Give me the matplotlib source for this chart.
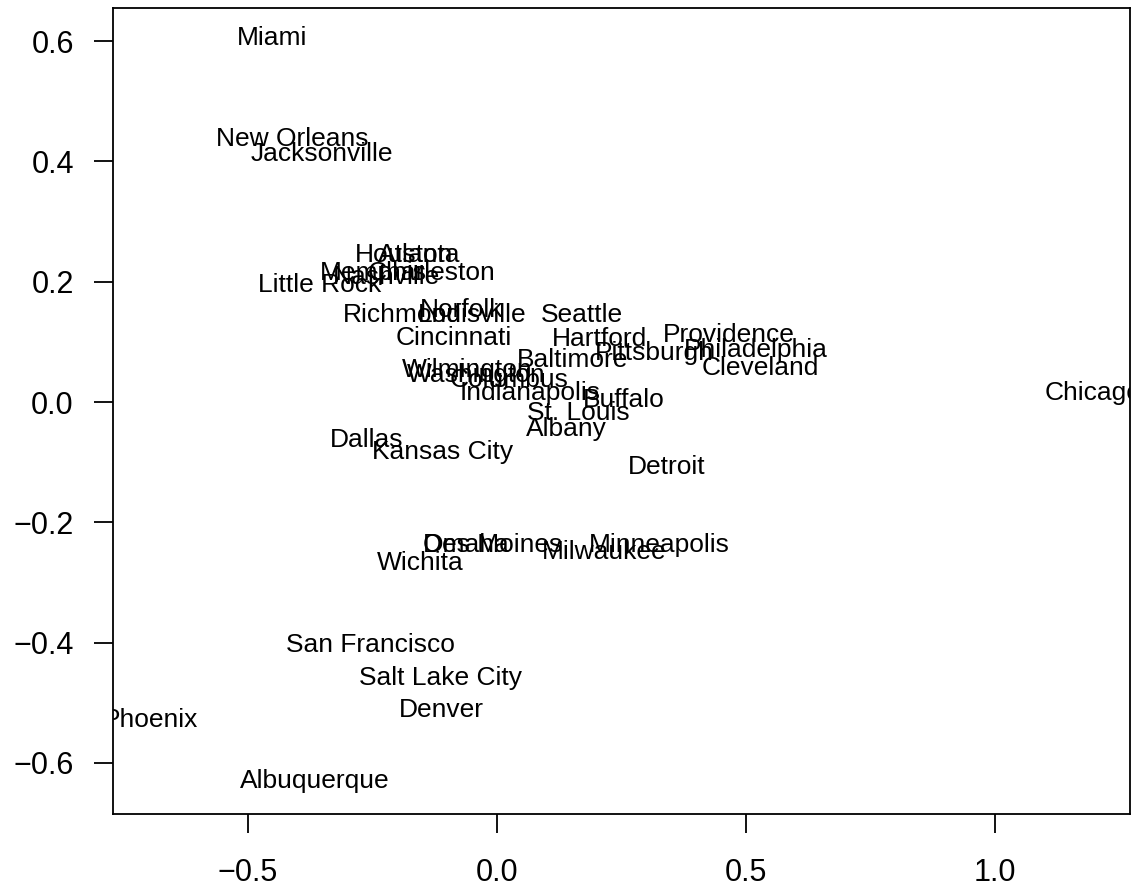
import matplotlib
matplotlib.use("Agg")
import matplotlib.pyplot as plt

plt.rcParams['font.family'] = ['Liberation Sans', 'DejaVu Sans']

# Two-dimensional scaling coordinates of the cities
cities = [
    'Miami', 'New Orleans', 'Jacksonville', 'Houston', 'Atlanta',
    'Memphis', 'Nashville', 'Charleston', 'Little Rock', 'Richmond',
    'Norfolk', 'Louisville', 'Seattle', 'Cincinnati', 'Hartford',
    'Providence', 'Pittsburgh', 'Philadelphia', 'Cleveland', 'Baltimore',
    'Wilmington', 'Washington', 'Columbus', 'Indianapolis', 'Buffalo',
    'St. Louis', 'Albany', 'Chicago', 'Dallas', 'Kansas City',
    'Detroit', 'Omaha', 'Des Moines', 'Milwaukee', 'Minneapolis',
    'Wichita', 'San Francisco', 'Salt Lake City', 'Denver', 'Phoenix',
    'Albuquerque',
]
x = [
    -0.450, -0.411, -0.350, -0.186, -0.156,
    -0.247, -0.222, -0.131, -0.355, -0.190,
    -0.071, -0.048, 0.171, -0.086, 0.206,
    0.467, 0.316, 0.520, 0.530, 0.152,
    -0.058, -0.041, 0.025, 0.067, 0.256,
    0.164, 0.140, 1.197, -0.260, -0.108,
    0.341, -0.062, -0.008, 0.217, 0.326,
    -0.154, -0.253, -0.112, -0.110, -0.695,
    -0.365,
]
y = [
    0.606, 0.438, 0.412, 0.244, 0.245,
    0.214, 0.208, 0.214, 0.195, 0.145,
    0.153, 0.145, 0.145, 0.106, 0.105,
    0.111, 0.081, 0.086, 0.057, 0.070,
    0.053, 0.045, 0.037, 0.015, 0.003,
    -0.018, -0.045, 0.015, -0.063, -0.083,
    -0.108, -0.238, -0.238, -0.249, -0.238,
    -0.268, -0.404, -0.459, -0.512, -0.529,
    -0.631,
]
xticks = [-0.5, 0.0, 0.5, 1.0]
yticks = [-0.6, -0.4, -0.2, 0.0, 0.2, 0.4, 0.6]


def fmt(v):
    return ('%.1f' % v).replace('-', '\u2212')


fig = plt.figure(figsize=(11.31, 8.93), dpi=100)
ax = fig.add_axes([0.0996, 0.0885, 0.8995, 0.9031])

for name, xi, yi in zip(cities, x, y):
    ax.text(xi, yi, name, ha='center', va='center', fontsize=19, clip_on=True)

ax.set_xlim(-0.771, 1.272)
ax.set_ylim(-0.685, 0.656)
ax.set_xticks(xticks)
ax.set_xticklabels([fmt(v) for v in xticks])
ax.set_yticks(yticks)
ax.set_yticklabels([fmt(v) for v in yticks])
ax.tick_params(axis='both', length=14, width=1.3, labelsize=22, direction='out')
ax.tick_params(axis='x', pad=18)
ax.tick_params(axis='y', pad=14)
for s in ax.spines.values():
    s.set_linewidth(1.3)

fig.savefig('out.png', dpi=100)
